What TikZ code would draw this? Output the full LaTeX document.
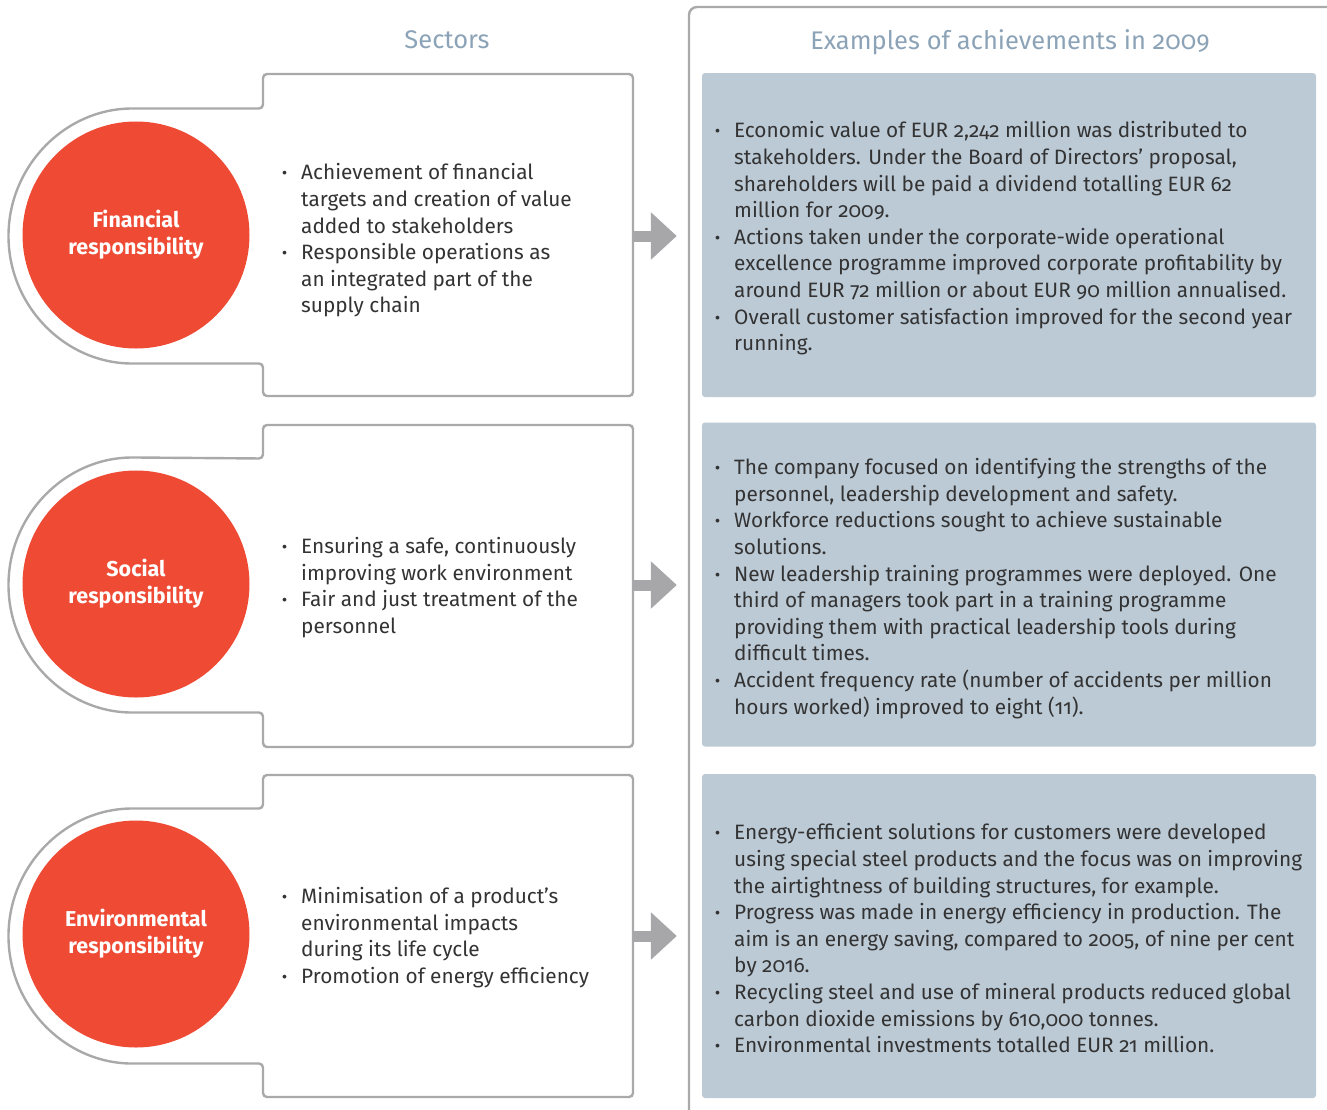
\documentclass[tikz,border=0pt]{standalone}
\usepackage{fontspec}
\setmainfont{Fira Sans}[Numbers=OldStyle]
\usetikzlibrary{arrows.meta}
\definecolor{respred}{HTML}{EE4A34}
\definecolor{framegray}{HTML}{A9A9AA}
\definecolor{arrgray}{HTML}{A7A7A9}
\definecolor{boxblue}{HTML}{BCCAD6}
\definecolor{headblue}{HTML}{8CA3B7}
\definecolor{bodytext}{HTML}{333333}
\newcommand{\bul}{\makebox[9pt][l]{\bfseries ·}}

\begin{document}
\begin{tikzpicture}[x=1pt, y=-1pt,
  frame/.style={draw=framegray, line width=2.4pt, rounded corners=4pt},
  resp/.style={circle, fill=respred, minimum size=227pt, inner sep=0pt, text=white,
    align=center, font=\fontsize{21.5pt}{27pt}\selectfont\bfseries},
  achbox/.style={rectangle, fill=boxblue, rounded corners=3pt, minimum width=614pt,
    minimum height=324pt, inner sep=0pt},
  bodytxt/.style={anchor=west, inner sep=0pt, text=bodytext,
    font=\fontsize{20.8pt}{26.6pt}\selectfont},
  head/.style={text=headblue, font=\fontsize{25.5pt}{30pt}\selectfont},
  bigarr/.style={draw=arrgray, line width=11pt, -{Triangle[length=26pt, width=46pt]},
    shorten >=25pt}
]
\useasboundingbox (0,0) rectangle (1327,1109);

% --- Column titles and the frame round the results ---
\node[head] (secT) at (447,40) {Sectors};
\node[head] (achT) at (1010,42) {Examples of achievements in 2009};
\draw[frame, rounded corners=8pt] (689,1130) -- (689,7) -- (1350,7);

% --- Financial ---
\draw[frame] (263,108.5) -- (263,74) -- (633,74) -- (633,396) -- (263,396) -- (263,363.5)
  -- (136,363.5) arc[start angle=-90, end angle=-270, radius=127.5pt] -- cycle;
\node[resp] (fin) at (136,235) {Financial\\responsibility};
\node[bodytxt] (finT) at (282,241) {\begin{tabular}{@{}l@{\hspace{10pt}}l@{}}
  \bul & Achievement of financial\\
       & targets and creation of value\\
       & added to stakeholders\\
  \bul & Responsible operations as\\
       & an integrated part of the\\
       & supply chain
\end{tabular}};
\node[achbox] (finA) at (1009,235) {};
\node[bodytxt] (finAT) at (715,239) {\begin{tabular}{@{}l@{\hspace{10pt}}l@{}}
  \bul & Economic value of EUR 2,242 million was distributed to\\
       & stakeholders. Under the Board of Directors' proposal,\\
       & shareholders will be paid a dividend totalling EUR 62\\
       & million for 2009.\\
  \bul & Actions taken under the corporate-wide operational\\
       & excellence programme improved corporate profitability by\\
       & around EUR 72 million or about EUR 90 million annualised.\\
  \bul & Overall customer satisfaction improved for the second year\\
       & running.
\end{tabular}};
\coordinate (fin-e) at (633,236);
\draw[bigarr] (fin-e) -- (fin-e -| finA.west);

% --- Social ---
\draw[frame] (263,458.5) -- (263,425) -- (633,425) -- (633,747) -- (263,747) -- (263,712.5)
  -- (136,712.5) arc[start angle=-90, end angle=-270, radius=127.5pt] -- cycle;
\node[resp] (soc) at (136,584) {Social\\responsibility};
\node[bodytxt] (socT) at (282,588) {\begin{tabular}{@{}l@{\hspace{10pt}}l@{}}
  \bul & Ensuring a safe, continuously\\
       & improving work environment\\
  \bul & Fair and just treatment of the\\
       & personnel
\end{tabular}};
\node[achbox] (socA) at (1009,584.5) {};
\node[bodytxt] (socAT) at (715,589) {\begin{tabular}{@{}l@{\hspace{10pt}}l@{}}
  \bul & The company focused on identifying the strengths of the\\
       & personnel, leadership development and safety.\\
  \bul & Workforce reductions sought to achieve sustainable\\
       & solutions.\\
  \bul & New leadership training programmes were deployed. One\\
       & third of managers took part in a training programme\\
       & providing them with practical leadership tools during\\
       & difficult times.\\
  \bul & Accident frequency rate (number of accidents per million\\
       & hours worked) improved to eight (11).
\end{tabular}};
\coordinate (soc-e) at (633,585);
\draw[bigarr] (soc-e) -- (soc-e -| socA.west);

% --- Environmental ---
\draw[frame] (263,808.5) -- (263,775) -- (633,775) -- (633,1097) -- (263,1097) -- (263,1063.5)
  -- (136,1063.5) arc[start angle=-90, end angle=-270, radius=127.5pt] -- cycle;
\node[resp] (env) at (136,934) {Environmental\\responsibility};
\node[bodytxt] (envT) at (282,938) {\begin{tabular}{@{}l@{\hspace{10pt}}l@{}}
  \bul & Minimisation of a product’s\\
       & environmental impacts\\
       & during its life cycle\\
  \bul & Promotion of energy efficiency
\end{tabular}};
\node[achbox] (envA) at (1009,936) {};
\node[bodytxt] (envAT) at (715,941) {\begin{tabular}{@{}l@{\hspace{10pt}}l@{}}
  \bul & Energy-efficient solutions for customers were developed\\
       & using special steel products and the focus was on improving\\
       & the airtightness of building structures, for example.\\
  \bul & Progress was made in energy efficiency in production. The\\
       & aim is an energy saving, compared to 2005, of nine per cent\\
       & by 2016.\\
  \bul & Recycling steel and use of mineral products reduced global\\
       & carbon dioxide emissions by 610,000 tonnes.\\
  \bul & Environmental investments totalled EUR 21 million.
\end{tabular}};
\coordinate (env-e) at (633,936);
\draw[bigarr] (env-e) -- (env-e -| envA.west);
\end{tikzpicture}
\end{document}
